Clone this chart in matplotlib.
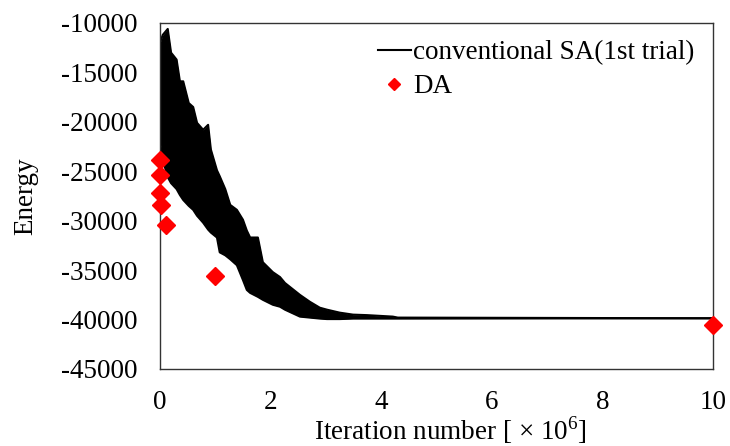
import numpy as np
import matplotlib
matplotlib.use("Agg")
import matplotlib.pyplot as plt

plt.rcParams['font.family'] = ['Liberation Serif', 'DejaVu Serif']
plt.rcParams['mathtext.fontset'] = 'custom'
plt.rcParams['mathtext.rm'] = 'Liberation Serif'
plt.rcParams['axes.unicode_minus'] = False

# conventional SA: envelope of the noisy trace (x in 1e6 iterations)
sa_x = [0.00, 0.05, 0.14, 0.20, 0.30, 0.36, 0.42, 0.52, 0.60, 0.67, 0.78, 0.87, 0.92,
        1.03, 1.08, 1.18, 1.27, 1.39, 1.50, 1.57, 1.63, 1.77, 1.86, 2.04, 2.17, 2.26,
        2.53, 2.71, 2.89, 3.02, 3.25, 3.49, 3.74, 4.21, 4.30, 10.0]
sa_upper = [-12000, -11200, -10600, -13000, -13700, -15900, -15900, -18100, -18500,
            -20100, -20800, -20300, -22800, -24900, -25500, -26800, -28400, -28900,
            -29900, -31000, -31700, -31700, -34200, -35200, -35700, -36300, -37500,
            -38200, -38800, -39000, -39300, -39500, -39550, -39700, -39800, -39870]
sa_lower = [-22000, -23800, -25600, -26200, -26800, -27400, -27900, -28500, -28900,
            -29500, -30200, -30900, -31200, -31700, -33200, -33500, -33900, -34500,
            -36000, -37000, -37300, -37700, -38000, -38500, -38700, -39000, -39700,
            -39800, -39900, -39950, -39950, -39900, -39900, -39900, -39900, -39870]

# DA results
da_x = [0.0, 0.0, 0.0, 0.01, 0.11, 1.0, 10.0]
da_y = [-23900, -25400, -27200, -28400, -30400, -35600, -40500]

fig = plt.figure(figsize=(7.3, 4.46), dpi=100)
ax = fig.add_axes([160 / 730, 1 - 369 / 446, 553 / 730, 346 / 446])

ax.fill_between(sa_x, sa_lower, sa_upper, color='black', lw=0)
ax.plot(sa_x, sa_upper, color='black', lw=1.5, label='conventional SA(1st trial)')
ax.plot(sa_x, sa_lower, color='black', lw=1.5)
ax.plot(da_x, da_y, 'D', color='red', ms=9.5, mec='red', lw=0,
        label='DA', clip_on=False, zorder=5)

ax.set_xlim(0, 10)
ax.set_ylim(-45000, -10000)
ax.set_xticks([0, 2, 4, 6, 8, 10])
ax.set_yticks(np.arange(-45000, -9999, 5000))
ax.tick_params(length=0, labelsize=19.5)
ax.tick_params(axis='x', pad=15)
ax.tick_params(axis='y', pad=16)
for s in ax.spines.values():
    s.set_color('#333333')
    s.set_linewidth(1)

ax.set_xlabel('Iteration number [ × 10$^6$]', fontsize=19.5)
ax.xaxis.set_label_coords((450 - 160) / 553, -0.13)
ax.set_ylabel('Energy', fontsize=19.5)
ax.yaxis.set_label_coords((38 - 160) / 553, 0.5)

ax.legend(loc='upper left', bbox_to_anchor=(0.37, 0.99), frameon=False,
          fontsize=19.5, handlelength=1.2, handletextpad=0.1, markerscale=0.65,
          borderpad=0, labelspacing=0.35)

fig.savefig('out.png', dpi=100)
